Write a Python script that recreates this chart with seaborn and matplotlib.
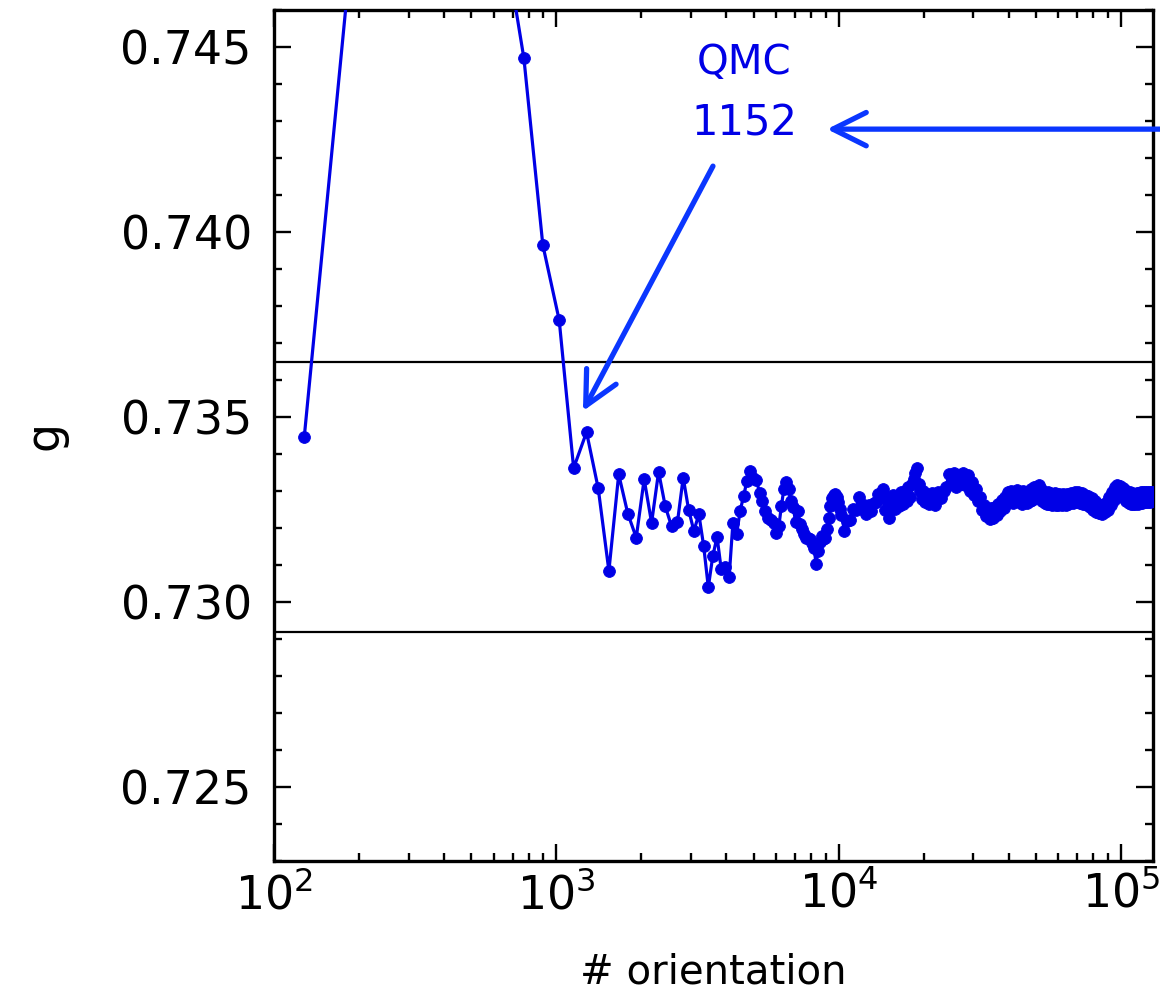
import numpy as np
import pandas as pd
import matplotlib
matplotlib.use("Agg")
import matplotlib.pyplot as plt
from matplotlib.ticker import MultipleLocator, FormatStrFormatter, LogLocator
import seaborn as sns

# Asymmetry parameter g versus number of QMC orientations.
# Orientation counts grow in blocks; each block lists g read at its own step.
g_step128 = [  # n = 128 ... 10240
    0.73446, 0.75820, 0.75600, 0.75250, 0.74840, 0.74469, 0.73965, 0.73762,
    0.73362, 0.73459, 0.73307, 0.73084, 0.73345, 0.73239, 0.73174, 0.73332,
    0.73214, 0.73352, 0.73259, 0.73205, 0.73217, 0.73336, 0.73249, 0.73192,
    0.73237, 0.73151, 0.73040, 0.73124, 0.73176, 0.73088, 0.73095, 0.73067,
    0.73214, 0.73183, 0.73246, 0.73286, 0.73327, 0.73354, 0.73336,
    0.73330, 0.73295, 0.73273, 0.73246, 0.73228, 0.73222, 0.73214, 0.73187,
    0.73205, 0.73259, 0.73305, 0.73324, 0.73305, 0.73273, 0.73257, 0.73216,
    0.73246, 0.73211, 0.73197, 0.73184, 0.73174, 0.73173, 0.73169, 0.73159,
    0.73147, 0.73103, 0.73138, 0.73162, 0.73178, 0.73170, 0.73174, 0.73197,
    0.73227, 0.73259, 0.73281, 0.73289, 0.73292, 0.73284, 0.73270, 0.73251,
    0.73235,
]
g_step256 = [  # n = 10496 ... 20480
    0.73192, 0.73218, 0.73222, 0.73252, 0.73248, 0.73285, 0.73258, 0.73262,
    0.73238, 0.73262, 0.73245, 0.73268, 0.73270, 0.73292, 0.73280, 0.73305,
    0.73250, 0.73285, 0.73228, 0.73275, 0.73290, 0.73252, 0.73285, 0.73260,
    0.73296, 0.73266, 0.73300, 0.73272, 0.73310, 0.73285, 0.73320, 0.73332,
    0.73350, 0.73362, 0.73318, 0.73300, 0.73278, 0.73300, 0.73270, 0.73292,
]
g_step512 = [  # n = 20992 ... 65536
    0.73265, 0.73295, 0.73262, 0.73298, 0.73280, 0.73300,
    0.73310, 0.73345, 0.73320, 0.73350, 0.73312, 0.73344, 0.73318, 0.73350,
    0.73315, 0.73342,
    0.73300, 0.73325, 0.73290, 0.73305, 0.73272, 0.73285, 0.73248, 0.73262,
    0.73232,
    0.73250, 0.73225, 0.73255, 0.73228, 0.73258, 0.73235, 0.73265, 0.73245,
    0.73275, 0.73255, 0.73285, 0.73268,
    0.73298, 0.73270, 0.73300, 0.73268, 0.73295, 0.73272, 0.73302, 0.73270,
    0.73296, 0.73266, 0.73300, 0.73274, 0.73298, 0.73268, 0.73296, 0.73272,
    0.73305, 0.73275, 0.73310, 0.73282, 0.73312, 0.73285, 0.73315, 0.73280,
    0.73305, 0.73274, 0.73298, 0.73268, 0.73295, 0.73265, 0.73296, 0.73266,
    0.73294, 0.73262, 0.73292, 0.73264, 0.73294, 0.73262, 0.73290, 0.73262,
    0.73292, 0.73264, 0.73290, 0.73262, 0.73292, 0.73265, 0.73290, 0.73262,
    0.73292, 0.73266, 0.73290,
]
g_step1024 = [  # n = 66560 ... 131072
    0.73295, 0.73268, 0.73298, 0.73270, 0.73296, 0.73268, 0.73294, 0.73266,
    0.73290, 0.73262, 0.73286, 0.73256, 0.73280, 0.73250, 0.73272, 0.73244,
    0.73266, 0.73240, 0.73262, 0.73238, 0.73264, 0.73242, 0.73270, 0.73250,
    0.73285, 0.73262, 0.73296, 0.73275, 0.73310, 0.73288, 0.73315, 0.73290,
    0.73314, 0.73286, 0.73308, 0.73280, 0.73302, 0.73274, 0.73298, 0.73268,
    0.73296, 0.73266, 0.73294, 0.73264, 0.73292, 0.73266, 0.73294, 0.73266,
    0.73294, 0.73268, 0.73296, 0.73268, 0.73298, 0.73270, 0.73296, 0.73270,
    0.73298, 0.73270, 0.73296, 0.73270, 0.73298, 0.73272, 0.73296, 0.73274,
]
block_steps = [128, 256, 512, 1024]

# reference g with +/- 0.5 % bounds
bound_levels = [0.72919, 0.73649]

y_ticks = [0.725, 0.730, 0.735, 0.740, 0.745]
x_limits = [100, 1.3e5]
y_limits = [0.723, 0.746]

annot_title = "QMC"
annot_count = "1152"

# build the orientation grid block by block
counts, values = [], []
start = 0
for step, block in zip(block_steps, [g_step128, g_step256, g_step512, g_step1024]):
    n = start + step * np.arange(1, len(block) + 1)
    counts.append(n)
    values.append(np.asarray(block))
    start = n[-1]
df = pd.DataFrame({"orientation": np.concatenate(counts), "g": np.concatenate(values)})

sns.set_style("ticks")
plt.rcParams["font.family"] = ["DejaVu Sans"]
plt.rcParams["mathtext.default"] = "regular"
for key in ["text.color", "axes.labelcolor", "xtick.color", "ytick.color"]:
    plt.rcParams[key] = "black"

fig = plt.figure(figsize=(11.6, 10), dpi=100)
ax = fig.add_axes([274 / 1160, 139 / 1000, 879 / 1160, 851 / 1000])
ax.set_xscale("log")

line_blue = "#0000e6"
arrow_blue = "#0a36ff"

sns.lineplot(data=df, x="orientation", y="g", ax=ax, color=line_blue,
             linewidth=2.3, marker="o", markersize=8.5, markeredgewidth=0.6,
             markeredgecolor=line_blue, estimator=None, sort=False, zorder=3)

for lvl in bound_levels:
    ax.axhline(lvl, color="black", linewidth=1.6, zorder=2)

ax.set_xlim(*x_limits)
ax.set_ylim(*y_limits)
ax.set_yticks(y_ticks)
ax.yaxis.set_minor_locator(MultipleLocator(0.001))
ax.yaxis.set_major_formatter(FormatStrFormatter("%.3f"))
ax.xaxis.set_major_locator(LogLocator(base=10, numticks=10))
ax.xaxis.set_minor_locator(LogLocator(base=10, subs=np.arange(2, 10), numticks=20))

for side in ax.spines.values():
    side.set_linewidth(2.4)
    side.set_color("black")

ax.tick_params(which="both", direction="in", top=True, right=True,
               width=1.7, color="black")
ax.tick_params(which="major", length=12)
ax.tick_params(which="minor", length=5.5)
ax.tick_params(axis="y", which="major", labelsize=33, pad=16)
ax.tick_params(axis="x", which="major", labelsize=33, pad=8)

ax.set_xlabel("")
ax.set_ylabel("")
fig.text(713 / 1160, 1 - 972 / 1000, "# orientation", ha="center", va="center",
         fontsize=29)
fig.text(45 / 1160, 1 - 436 / 1000, "g", ha="center", va="center",
         fontsize=33, rotation=90)

# annotation text and arrows
ax.text(4624, 0.74457, annot_title, color=line_blue, fontsize=29,
        ha="center", va="center", zorder=5)
ax.text(4624, 0.74292, annot_count, color=line_blue, fontsize=30,
        ha="center", va="center", zorder=5)

arrow_kw = dict(arrowstyle="->,head_length=0.8,head_width=0.4",
                color=arrow_blue, lw=3.8, shrinkA=0, shrinkB=0,
                mutation_scale=30)
ax.annotate("", xy=(9100, 0.74278), xytext=(1.40e5, 0.74278),
            xycoords="data", textcoords="data", arrowprops=arrow_kw,
            annotation_clip=False, zorder=6)
ax.annotate("", xy=(1243, 0.73516), xytext=(3590, 0.74178),
            xycoords="data", textcoords="data", arrowprops=arrow_kw,
            annotation_clip=False, zorder=6)

fig.savefig("out.png", dpi=100, facecolor="white")
